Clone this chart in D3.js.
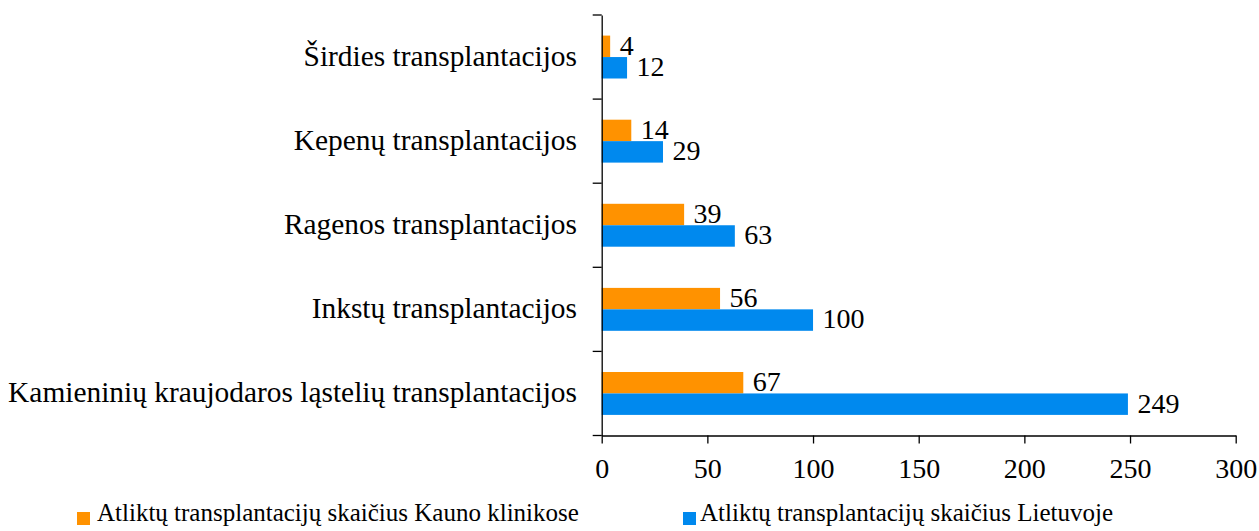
<!DOCTYPE html>
<html><head><meta charset="utf-8">
<script src="https://cdn.jsdelivr.net/npm/d3@7"></script>
<style>body{margin:0;background:#fff}svg{display:block}text{font-family:"Liberation Serif","Times New Roman",serif;fill:#000}</style>
</head><body>
<svg id="c" width="1259" height="531"></svg>
<script>
const categories = ["Širdies transplantacijos","Kepenų transplantacijos","Ragenos transplantacijos","Inkstų transplantacijos","Kamieninių kraujodaros ląstelių transplantacijos"];
const kaunasValues = [4,14,39,56,67];
const lithuaniaValues = [12,29,63,100,249];
const seriesNames = ["Atliktų transplantacijų skaičius Kauno klinikose","Atliktų transplantacijų skaičius Lietuvoje"];
const xTicks = [0,50,100,150,200,250,300];
const colors = ["#ff9200","#0089ee"];

const svg = d3.select("#c");
const mLeft = 601.7, mRight = 1235.7, mTop = 15, mBottom = 435.5;
const x = d3.scaleLinear().domain([0,300]).range([mLeft,mRight]);
const y = d3.scaleBand().domain(categories).range([mTop,mBottom]);
const inner = d3.scaleBand().domain([0,1]).range([0,y.bandwidth()]).paddingOuter(0.96).paddingInner(0);
const fsCat = 29.4, fsNum = 28, fsLeg = 25;

categories.forEach((c,i)=>{
  const vals=[kaunasValues[i],lithuaniaValues[i]];
  vals.forEach((v,j)=>{
    const yy = y(c)+inner(j);
    svg.append("rect").attr("x",x(0)).attr("y",yy).attr("width",x(v)-x(0)).attr("height",inner.bandwidth()).attr("fill",colors[j]);
    svg.append("text").attr("x",x(v)+9.5).attr("y",yy+inner.bandwidth()/2).attr("dy","0.3em").attr("font-size",fsNum).text(v);
  });
});

const ya = svg.append("g").attr("transform",`translate(${mLeft},0)`)
  .call(d3.axisLeft(y).tickSizeInner(0).tickSizeOuter(0).tickFormat(""));
ya.select(".domain").attr("stroke","#000").attr("stroke-width",1.3);
const bounds = categories.map(c=>y(c)).concat([mBottom]);
svg.selectAll(".bt").data(bounds).join("line").attr("x1",mLeft-9).attr("x2",mLeft).attr("y1",d=>d).attr("y2",d=>d).attr("stroke","#000").attr("stroke-width",1.3);
categories.forEach(c=>{
  svg.append("text").attr("x",577).attr("y",y(c)+y.bandwidth()/2).attr("dy","0.3em").attr("text-anchor","end").attr("font-size",fsCat).text(c);
});

const xa = svg.append("g").attr("transform",`translate(0,${mBottom})`)
  .call(d3.axisBottom(x).tickValues(xTicks).tickSizeInner(8).tickSizeOuter(0).tickPadding(14.5));
xa.select(".domain").attr("stroke","#000").attr("stroke-width",1.3);
xa.selectAll(".tick line").attr("stroke","#000").attr("stroke-width",1.3);
xa.selectAll(".tick text").attr("font-size",fsNum).attr("font-family","Liberation Serif").attr("fill","#000");

const legX=[77,683], legTX=[97,700];
seriesNames.forEach((n,j)=>{
  svg.append("rect").attr("x",legX[j]).attr("y",512).attr("width",13).attr("height",13).attr("fill",colors[j]);
  svg.append("text").attr("x",legTX[j]).attr("y",521).attr("font-size",fsLeg).text(n);
});
</script>
</body></html>
